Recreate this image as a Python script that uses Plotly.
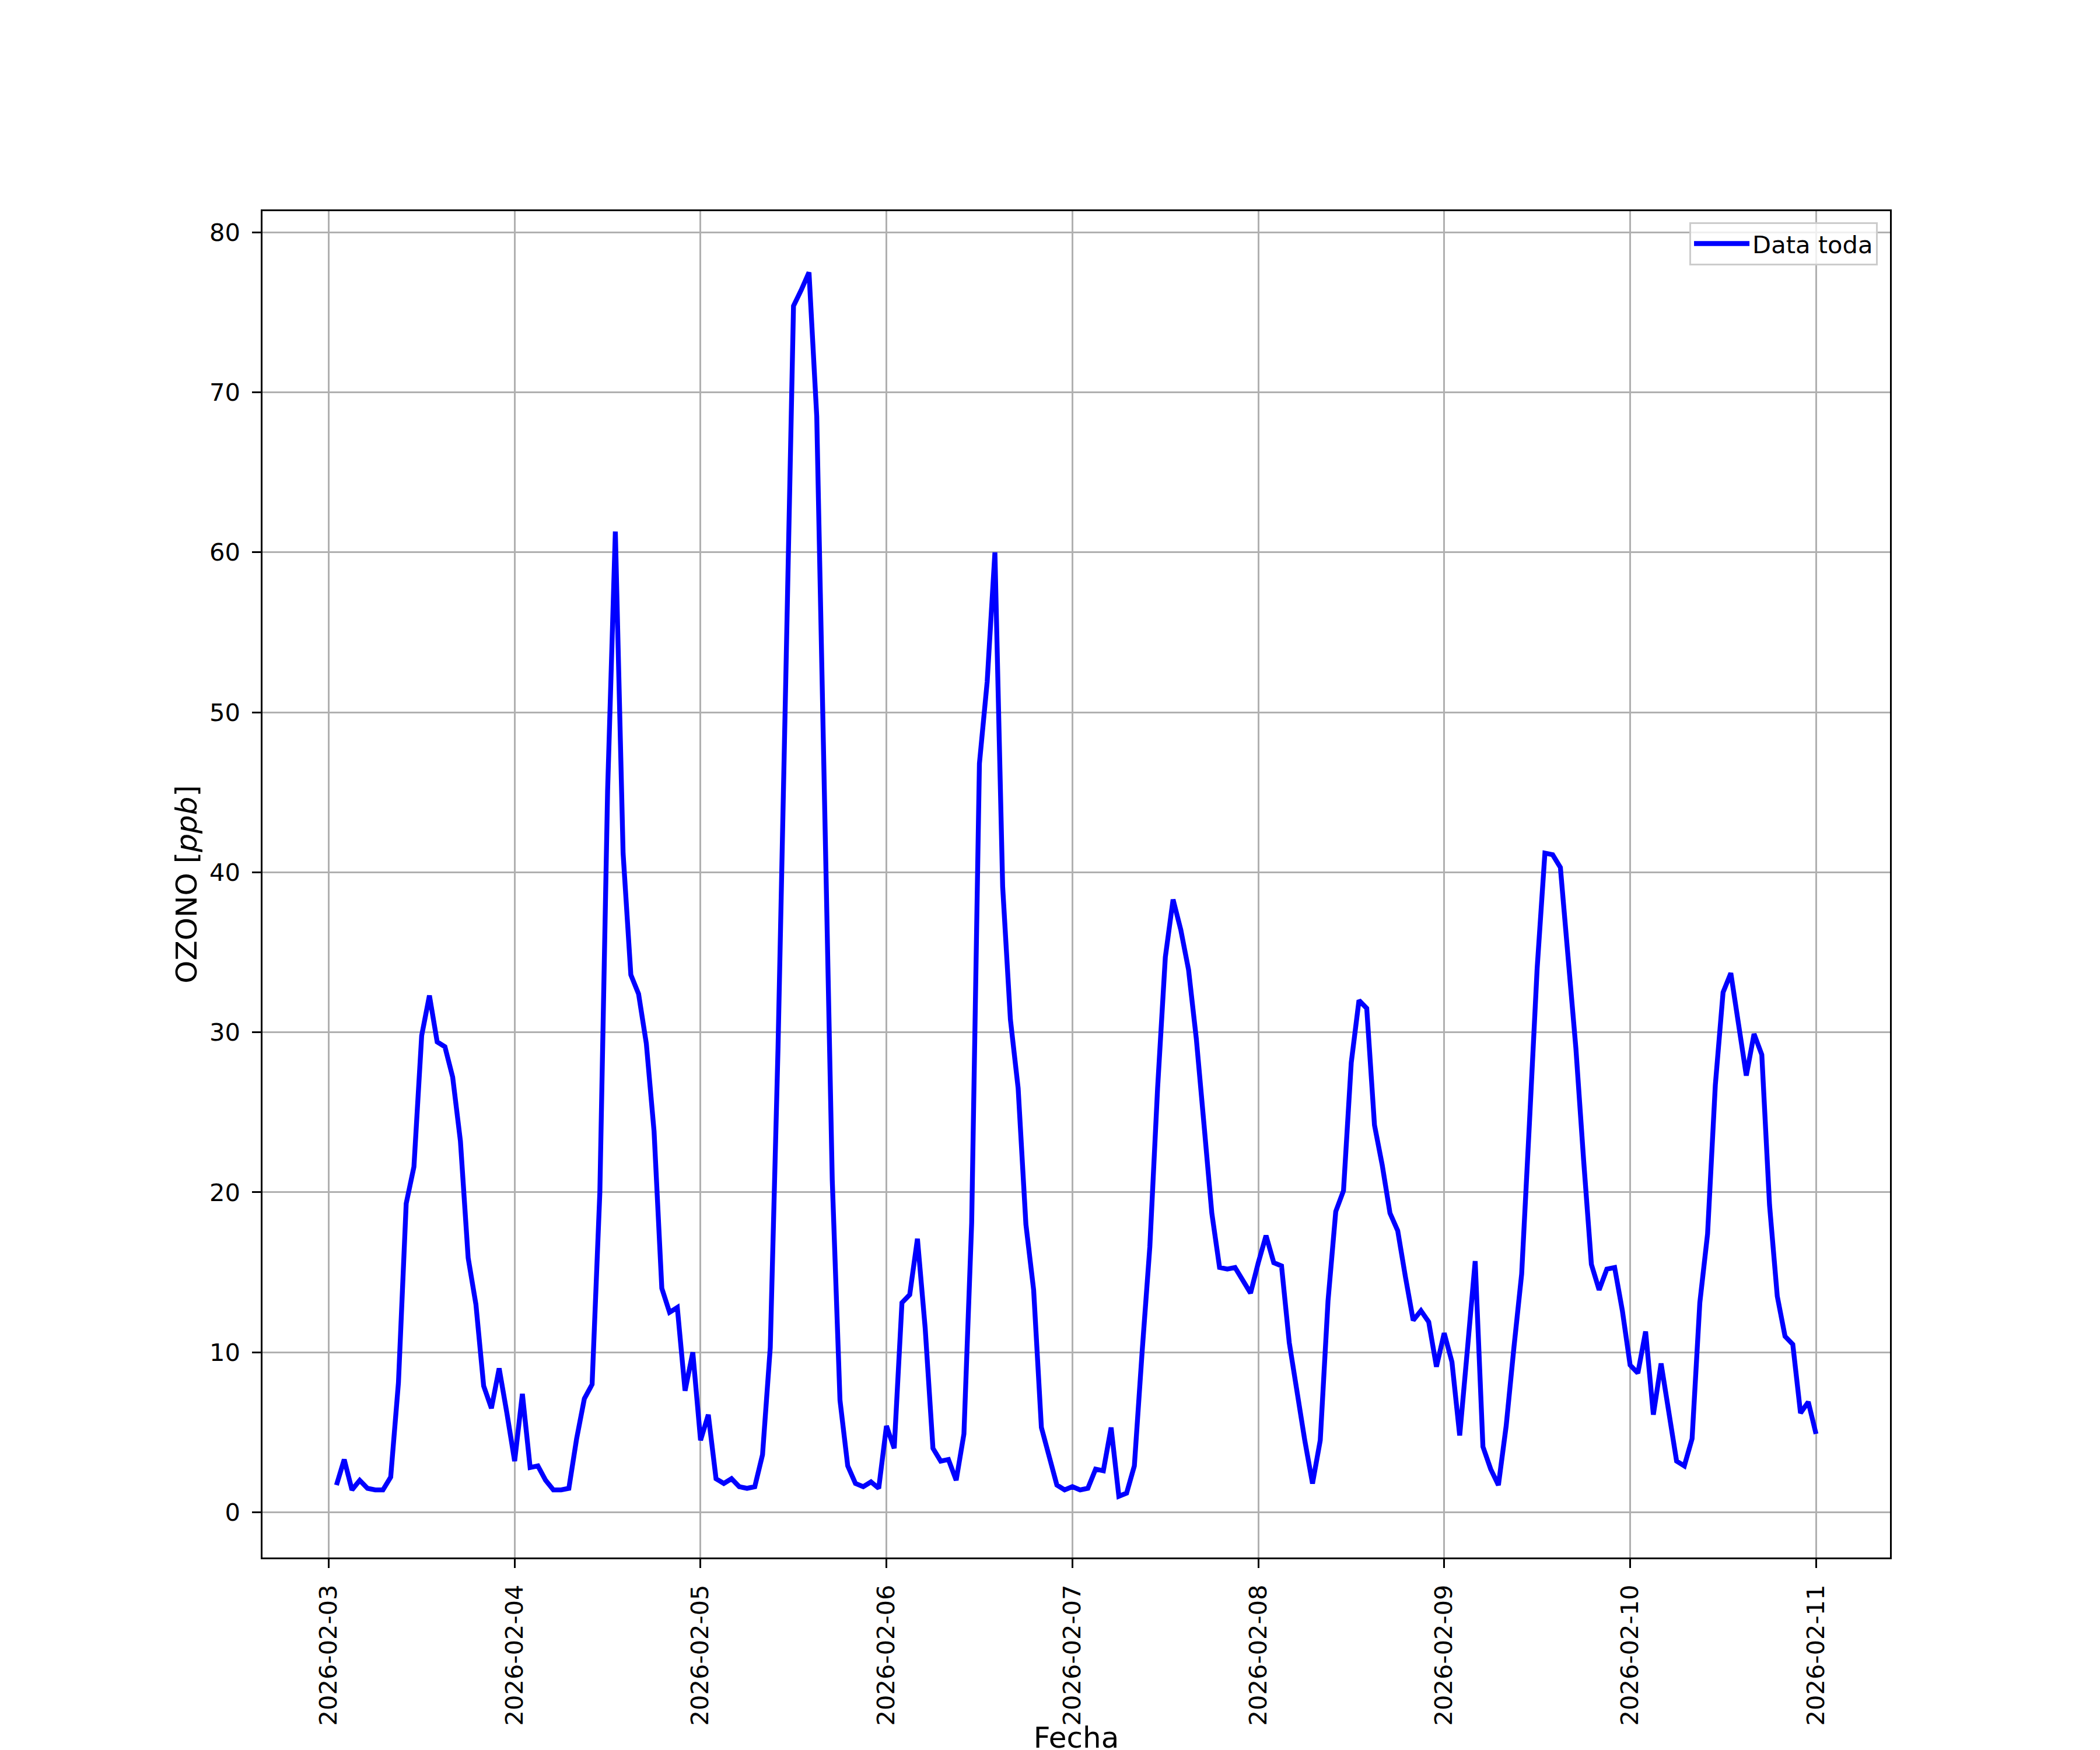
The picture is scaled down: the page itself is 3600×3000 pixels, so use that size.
import pandas as pd
import plotly.graph_objects as go

# Hourly ozone values [ppb], 2026-02-03 01:00 .. 2026-02-11 00:00
day_0203 = [1.7, 3.3, 1.4, 2.0, 1.5, 1.4, 1.4, 2.2, 8.1, 19.3, 21.6, 29.8, 32.3, 29.4, 29.1, 27.2,
            23.2, 15.9, 13.0, 7.9, 6.5, 9.0, 6.2, 3.2]
day_0204 = [7.4, 2.8, 2.9, 2.0, 1.4, 1.4, 1.5, 4.6, 7.1, 8.0, 20.0, 45.1, 61.3, 41.2, 33.6, 32.4,
            29.3, 23.8, 14.0, 12.5, 12.8, 7.6, 10.0, 4.5]
day_0205 = [6.1, 2.1, 1.8, 2.1, 1.6, 1.5, 1.6, 3.6, 10.3, 29.0, 52.0, 75.4, 76.4, 77.5, 68.5, 44.0,
            20.8, 7.0, 2.9, 1.8, 1.6, 1.9, 1.5, 5.4]
day_0206 = [4.0, 13.1, 13.6, 17.1, 11.5, 4.0, 3.2, 3.3, 2.0, 4.9, 18.1, 46.8, 51.9, 60.0, 39.1, 30.8,
            26.5, 18.0, 13.9, 5.3, 3.6, 1.7, 1.4, 1.6]
day_0207 = [1.4, 1.5, 2.7, 2.6, 5.3, 1.0, 1.2, 2.9, 10.0, 16.6, 26.5, 34.7, 38.3, 36.4, 33.9, 29.6,
            24.2, 18.7, 15.3, 15.2, 15.3, 14.5, 13.7, 15.6]
day_0208 = [17.3, 15.6, 15.4, 10.6, 7.3, 4.5, 1.8, 4.5, 13.2, 18.8, 20.1, 28.1, 32.0, 31.5, 24.2, 21.7,
            18.7, 17.6, 14.7, 12.0, 12.6, 11.9, 9.1, 11.2]
day_0209 = [9.4, 4.8, 10.2, 15.7, 4.1, 2.7, 1.7, 5.4, 10.3, 14.9, 24.3, 34.0, 41.2, 41.1, 40.3, 34.4,
            29.0, 22.0, 15.5, 13.9, 15.2, 15.3, 12.6, 9.2]
day_0210 = [8.7, 11.3, 6.1, 9.3, 6.0, 3.2, 2.9, 4.6, 13.1, 17.4, 26.7, 32.5, 33.7, 30.5, 27.3, 29.9,
            28.6, 19.2, 13.5, 11.0, 10.5, 6.2, 6.9, 4.9]

ozone = day_0203 + day_0204 + day_0205 + day_0206 + day_0207 + day_0208 + day_0209 + day_0210
fechas = pd.date_range("2026-02-03 01:00", periods=len(ozone), freq="h")

tick_dates = ["2026-02-03", "2026-02-04", "2026-02-05", "2026-02-06", "2026-02-07",
              "2026-02-08", "2026-02-09", "2026-02-10", "2026-02-11"]

series_name = "Data toda"
x_title = "Fecha"
y_title = "OZONO [<i>ppb</i>]"

# matplotlib-like 5% margins
span = fechas[-1] - fechas[0]
x_range = [fechas[0] - 0.05 * span, fechas[-1] + 0.05 * span]
ymin, ymax = min(ozone), max(ozone)
yr = ymax - ymin
y_range = [ymin - 0.05 * yr, ymax + 0.05 * yr]

PX = 300 / 72.0  # px per point
FONT = "DejaVu Sans"
fs = 10 * PX

fig = go.Figure()
fig.add_trace(go.Scatter(x=fechas, y=ozone, mode="lines", name=series_name,
                         line=dict(color="#0000ff", width=2 * PX)))

axis_common = dict(
    showgrid=True, gridcolor="#b0b0b0", gridwidth=0.8 * PX,
    showline=True, linecolor="black", linewidth=0.8 * PX, mirror=True,
    ticks="outside", ticklen=3.5 * PX, tickwidth=0.8 * PX, tickcolor="black",
    tickfont=dict(family=FONT, size=fs, color="black"),
    zeroline=False, automargin=False,
)

fig.update_layout(
    width=3600, height=3000,
    margin=dict(l=442, r=368, t=354, b=338),
    paper_bgcolor="white", plot_bgcolor="white",
    font=dict(family=FONT, size=fs, color="black"),
    showlegend=True,
    legend=dict(x=0.9925, y=0.9918, xanchor="right", yanchor="top",
                bgcolor="rgba(255,255,255,0.8)", bordercolor="#cccccc", borderwidth=3,
                itemwidth=95,
                font=dict(family=FONT, size=fs, color="black")),
    xaxis=dict(axis_common, type="date", range=x_range,
               tickmode="array", tickvals=tick_dates, ticktext=tick_dates,
               tickangle=-90, ticklabelstandoff=12,
               title=dict(text=x_title, font=dict(family=FONT, size=fs * 1.2), standoff=20)),
    yaxis=dict(axis_common, range=y_range, tickmode="array",
               tickvals=[0, 10, 20, 30, 40, 50, 60, 70, 80], ticklabelstandoff=12,
               title=dict(text=y_title, font=dict(family=FONT, size=fs * 1.2), standoff=6)),
)

fig.write_html("out.html")
